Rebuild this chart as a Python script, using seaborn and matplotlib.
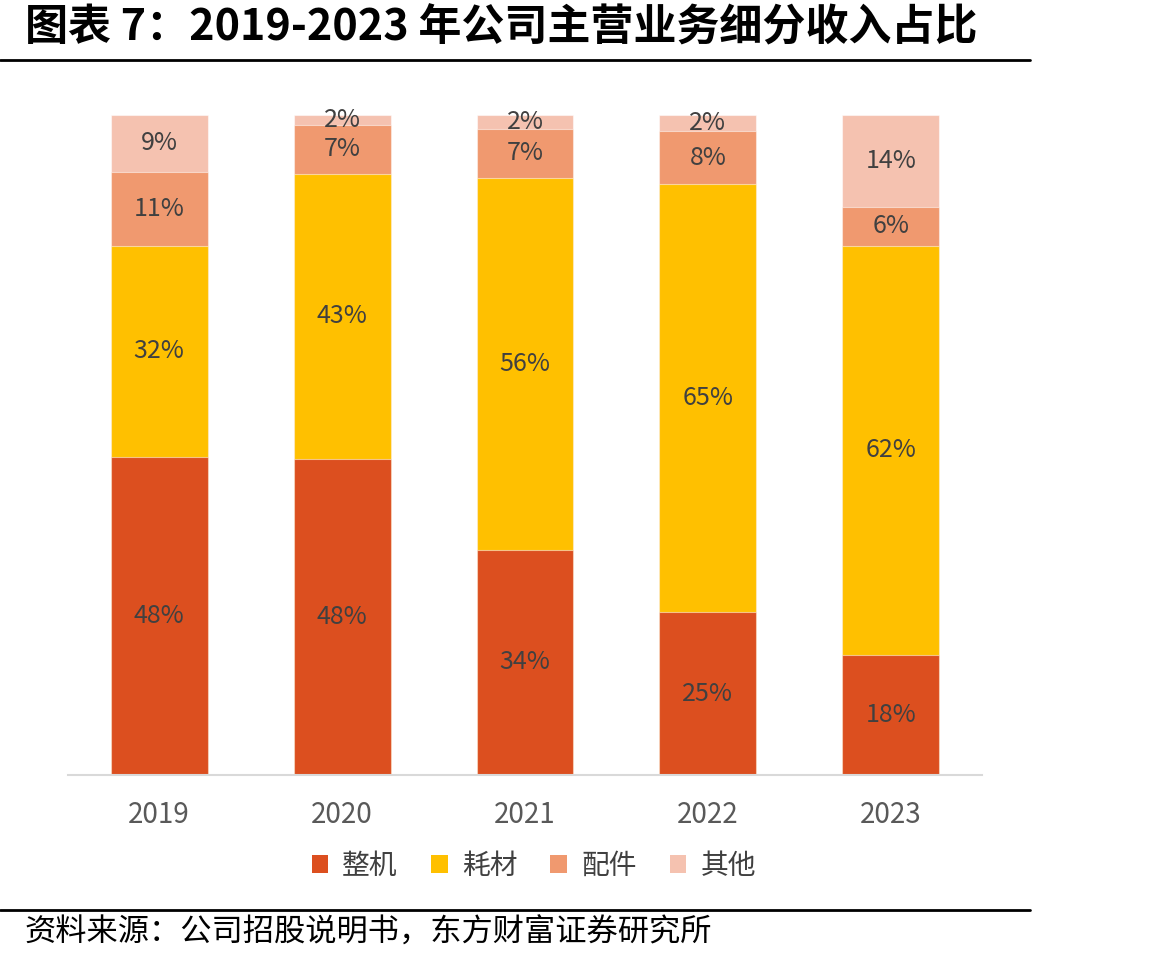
import numpy as np
import pandas as pd
import seaborn as sns
import matplotlib.pyplot as plt
from matplotlib.patches import Patch
from matplotlib.lines import Line2D

years = ["2019", "2020", "2021", "2022", "2023"]
series_names = ["整机", "耗材", "配件", "其他"]
# shares (labels are these values rounded)
zhengji = [48.2, 47.9, 34.1, 24.7, 18.2]
haocai = [32.0, 43.2, 56.4, 64.8, 62.0]
peijian = [11.2, 7.4, 7.4, 8.1, 5.9]
qita = [8.6, 1.5, 2.1, 2.4, 13.9]

colors = ["#DC4F1F", "#FFC000", "#F0996F", "#F5C2B0"]

sns.set_theme(style="white")
plt.rcParams["font.family"] = ["Noto Sans CJK SC", "DejaVu Sans"]

fig = plt.figure(figsize=(11.68, 9.63), dpi=100)
ax = fig.add_axes([0.058, 0.1952, 0.783, 0.6854])

df = pd.DataFrame({"year": years, "整机": zhengji, "耗材": haocai,
                   "配件": peijian, "其他": qita})
stack = df[series_names].cumsum(axis=1)

# draw cumulative totals back to front so each layer shows as a stacked segment
for name, color in reversed(list(zip(series_names, colors))):
    sns.barplot(x=df["year"], y=stack[name], color=color, width=0.53,
                edgecolor=(1, 1, 1, 0.5), linewidth=0.8, saturation=1, ax=ax)

for i in range(len(years)):
    bottom = 0
    for name in series_names:
        v = df[name].iloc[i]
        ax.text(i, bottom + v / 2, f"{v:.0f}%", ha="center", va="center",
                fontsize=18, color="#404040")
        bottom += v

ax.set_xlim(-0.5, 4.5)
ax.set_ylim(0, 100)
ax.set_xlabel("")
ax.set_ylabel("")
ax.set_yticks([])
for s in ["left", "right", "top"]:
    ax.spines[s].set_visible(False)
ax.spines["bottom"].set_color("#D9D9D9")
ax.spines["bottom"].set_linewidth(1.5)
ax.tick_params(axis="x", length=0, pad=18, labelsize=20, labelcolor="#595959")

handles = [Patch(facecolor=c, edgecolor="none") for c in colors]
fig.legend(handles, series_names, loc="center", bbox_to_anchor=(0.457, 0.101),
           ncol=4, frameon=False, fontsize=20, handlelength=0.6, handleheight=0.6,
           handletextpad=0.5, columnspacing=1.2, labelcolor="#404040")

fig.text(0.021, 0.971, "图表 7：2019-2023 年公司主营业务细分收入占比", fontsize=31,
         fontweight="bold", ha="left", va="center", color="black")
fig.add_artist(Line2D([0, 0.882], [0.938, 0.938], color="black", linewidth=2))
fig.add_artist(Line2D([0, 0.882], [0.055, 0.055], color="black", linewidth=2))
fig.text(0.021, 0.031, "资料来源：公司招股说明书，东方财富证券研究所", fontsize=22.5,
         ha="left", va="center", color="black")

fig.savefig("out.png", dpi=100)
